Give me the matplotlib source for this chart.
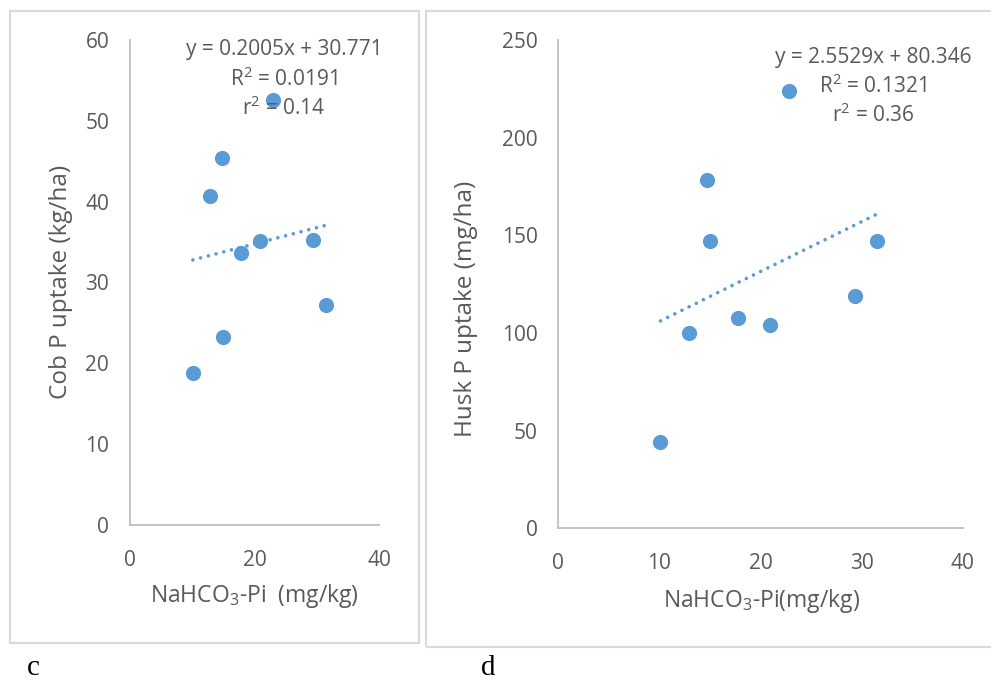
import numpy as np
import matplotlib.pyplot as plt
from matplotlib.patches import Rectangle

plt.rcParams['font.family'] = ['Open Sans', 'DejaVu Sans']
plt.rcParams['mathtext.default'] = 'regular'

W, H = 991, 680

# NaHCO3-Pi (mg/kg) against P uptake
pi_cob = [10.1, 15.0, 12.9, 14.7, 17.8, 20.9, 22.9, 29.4, 31.5]
cob_uptake = [18.8, 23.3, 40.7, 45.4, 33.7, 35.1, 52.6, 35.3, 27.2]
pi_husk = [10.1, 12.9, 14.7, 15.0, 17.8, 20.9, 22.8, 29.4, 31.5]
husk_uptake = [44.0, 99.9, 178.3, 146.8, 107.7, 103.9, 223.8, 118.8, 146.8]

# linear trend lines as printed on the chart
cob_fit = (0.2005, 30.771)
husk_fit = (2.5529, 80.346)
cob_text = ['y = 0.2005x + 30.771', 'R$^2$ = 0.0191', 'r$^2$ = 0.14']
husk_text = ['y = 2.5529x + 80.346', 'R$^2$ = 0.1321', 'r$^2$ = 0.36']

blue = '#5b9bd5'
txt = '#595959'
grid_c = '#bfbfbf'


def px(x, y):
    # pixel position -> figure fraction
    return x / W, 1 - y / H


fig = plt.figure(figsize=(W / 100, H / 100), dpi=100)

# panel frames (right one runs off the image)
for x0, y0, x1, y1 in [(10, 11, 419, 643), (426, 11, 1000, 647)]:
    fig.patches.append(Rectangle(px(x0, y1), (x1 - x0) / W, (y1 - y0) / H,
                                 transform=fig.transFigure, fill=False,
                                 edgecolor='#d9d9d9', lw=1.5))


def panel(rect, xs, ys, fit, ymax, ystep, xstep):
    ax = fig.add_axes(rect)
    ax.scatter(xs, ys, s=120, color=blue, zorder=3, linewidths=0)
    xl = np.array([min(xs), max(xs)])
    ax.plot(xl, fit[0] * xl + fit[1], color=blue, lw=2.6,
            linestyle=(0, (0.01, 2.2)), dash_capstyle='round')
    ax.set_xlim(0, 40)
    ax.set_ylim(0, ymax)
    ax.set_xticks(np.arange(0, 41, xstep))
    ax.set_yticks(np.arange(0, ymax + 1, ystep))
    for s in ['top', 'right']:
        ax.spines[s].set_visible(False)
    for s in ['left', 'bottom']:
        ax.spines[s].set_color(grid_c)
        ax.spines[s].set_linewidth(1.3)
    ax.tick_params(length=0, labelsize=15, colors=txt)
    ax.tick_params(axis='y', pad=15)
    ax.tick_params(axis='x', pad=18)
    return ax


ax1 = panel([130 / W, 1 - 525 / H, 249 / W, 485 / H],
            pi_cob, cob_uptake, cob_fit, 60, 10, 20)
ax2 = panel([558.4 / W, 1 - 528.2 / H, 404.2 / W, 488.3 / H],
            pi_husk, husk_uptake, husk_fit, 250, 50, 10)

# trend equations
for i, s in enumerate(cob_text):
    fig.text(*px(284, 50 + 29 * i), s, ha='center', va='center',
             fontsize=15, color=txt)
for i, s in enumerate(husk_text):
    fig.text(*px(873, 57 + 29 * i), s, ha='center', va='center',
             fontsize=15, color=txt)

# axis titles
fig.text(*px(61, 282), 'Cob P uptake (kg/ha)', rotation=90, ha='center',
         va='center', fontsize=17.5, color=txt)
fig.text(*px(466, 309), 'Husk P uptake (mg/ha)', rotation=90, ha='center',
         va='center', fontsize=17.5, color=txt)
fig.text(*px(254, 596), 'NaHCO$_3$-Pi  (mg/kg)', ha='center', va='center',
         fontsize=16.5, color=txt)
fig.text(*px(762, 601), 'NaHCO$_3$-Pi(mg/kg)', ha='center', va='center',
         fontsize=16.5, color=txt)

# panel letters
fig.text(*px(33, 668), 'c', ha='center', va='center', fontsize=21,
         family='Liberation Serif', color='black')
fig.text(*px(488, 668), 'd', ha='center', va='center', fontsize=21,
         family='Liberation Serif', color='black')

fig.savefig('out.png', dpi=100)
